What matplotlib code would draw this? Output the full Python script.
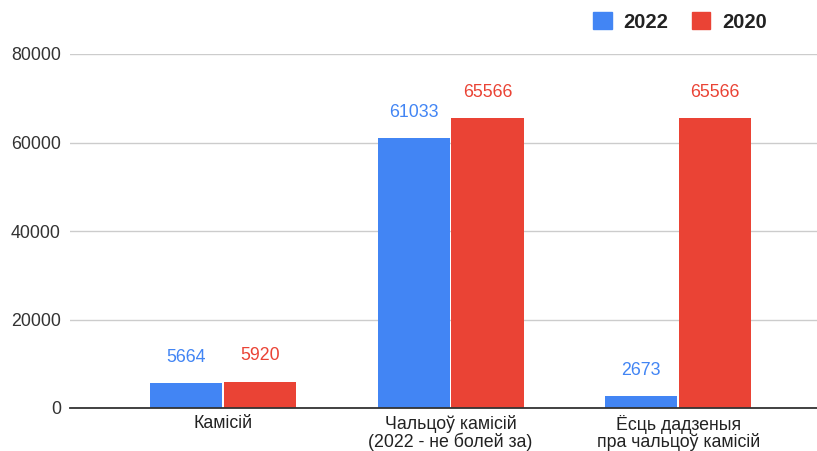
import numpy as np
import matplotlib
matplotlib.use("Agg")
import matplotlib.pyplot as plt

# ---- data ----
categories = ["Камісій", "Чальцоў камісій\n(2022 - не болей за)",
              "Ёсць дадзеныя\nпра чальцоў камісій"]
series_names = ["2022", "2020"]
values_2022 = [5664, 61033, 2673]
values_2020 = [5920, 65566, 65566]
yticks = [0, 20000, 40000, 60000, 80000]

BLUE = "#4285F4"
RED = "#EA4335"

plt.rcParams["font.family"] = ["Liberation Sans", "DejaVu Sans"]

W, H = 817, 451
fig = plt.figure(figsize=(W / 100, H / 100), dpi=100)
# axes box in pixel coords: left 70, right 817, bottom 408, top 54
ax = fig.add_axes([70 / W, 1 - 408 / H, (817 - 70) / W, (408 - 54) / H])

x = np.arange(len(categories))
bw = 0.317
off = 0.162
b1 = ax.bar(x - off, values_2022, bw, color=BLUE, zorder=3)
b2 = ax.bar(x + off, values_2020, bw, color=RED, zorder=3)

for bars, vals, col in [(b1, values_2022, BLUE), (b2, values_2020, RED)]:
    for rect, v in zip(bars, vals):
        ax.annotate(f"{v}", (rect.get_x() + rect.get_width() / 2, v),
                    xytext=(0, 12.5), textcoords="offset points",
                    ha="center", va="bottom", color=col, fontsize=12.8)

ax.set_xlim(-0.672, 2.61)
ax.set_ylim(0, 80000)
ax.set_yticks(yticks)
ax.set_yticklabels([str(t) for t in yticks], fontsize=12.8, color="#333333")
ax.set_xticks(x)
ax.set_xticklabels(categories, fontsize=12.8, color="#222222", linespacing=0.95)
ax.tick_params(axis="both", length=0)
ax.tick_params(axis="y", pad=6.5)
ax.tick_params(axis="x", pad=5)

ax.grid(axis="y", color="#cccccc", lw=1, zorder=0)
for s in ["top", "right", "left"]:
    ax.spines[s].set_visible(False)
ax.spines["bottom"].set_color("#333333")
ax.spines["bottom"].set_linewidth(1.3)
ax.spines["bottom"].set_zorder(4)

# legend (top right)
handles = [plt.Rectangle((0, 0), 1, 1, color=BLUE),
           plt.Rectangle((0, 0), 1, 1, color=RED)]
leg = fig.legend(handles, series_names, loc="center", ncol=2,
                 bbox_to_anchor=(680 / W, 1 - 22 / H), frameon=False,
                 prop={"weight": "bold", "size": 14.5},
                 handlelength=0.9, handleheight=0.9, handletextpad=0.6,
                 columnspacing=1.15)
for t in leg.get_texts():
    t.set_color("#222222")

fig.savefig("out.png", dpi=100)
